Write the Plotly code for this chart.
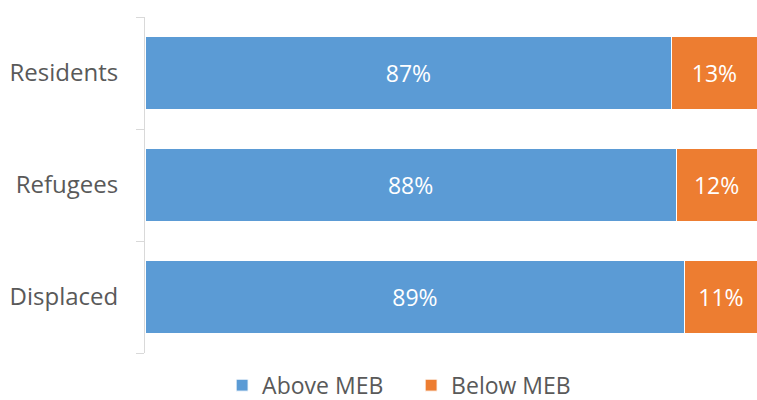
import plotly.graph_objects as go

categories = ["Residents", "Refugees", "Displaced"]
# bar lengths (share of the full width)
above_meb = [86.1, 86.8, 88.2]
below_meb = [13.9, 13.2, 11.8]
# data labels as printed on the chart
above_labels = ["87%", "88%", "89%"]
below_labels = ["13%", "12%", "11%"]

font_family = "Open Sans"
gray = "#595959"
fs = 23

fig = go.Figure()
fig.add_trace(go.Bar(
    y=categories, x=above_meb, name="Above MEB", orientation="h",
    marker=dict(color="#5B9BD5", line=dict(color="white", width=1)),
    text=above_labels, textposition="inside", insidetextanchor="middle",
    textfont=dict(color="white", size=fs, family=font_family),
    hoverinfo="skip",
))
fig.add_trace(go.Bar(
    y=categories, x=below_meb, name="Below MEB", orientation="h",
    marker=dict(color="#ED7D31", line=dict(color="white", width=1)),
    text=below_labels, textposition="inside", insidetextanchor="middle",
    textfont=dict(color="white", size=fs, family=font_family),
    hoverinfo="skip",
))

fig.update_layout(
    width=757, height=400,
    barmode="stack", bargap=0.35,
    margin=dict(l=145, r=0, t=17, b=47, autoexpand=False),
    paper_bgcolor="white", plot_bgcolor="white",
    font=dict(family=font_family, size=fs, color=gray),
    uniformtext=dict(mode="show", minsize=10),
    showlegend=True,
    legend=dict(orientation="h", x=0.126, xanchor="left",
                yref="container", y=0.037, yanchor="middle",
                entrywidth=144, entrywidthmode="pixels",
                font=dict(size=fs, color=gray), traceorder="normal"),
    xaxis=dict(range=[0, 100], visible=False, fixedrange=True, automargin=False),
    yaxis=dict(
        categoryorder="array", categoryarray=categories[::-1],
        showline=True, linecolor="#D9D9D9", linewidth=1,
        ticks="outside", ticklen=8, tickcolor="#D9D9D9", tickson="boundaries",
        tickfont=dict(size=24, color=gray, family=font_family),
        showgrid=False, zeroline=False, ticklabelstandoff=21, automargin=False,
    ),
)

fig.write_html("out.html", config={"displayModeBar": False},
               post_script="document.body.style.margin='0';")
